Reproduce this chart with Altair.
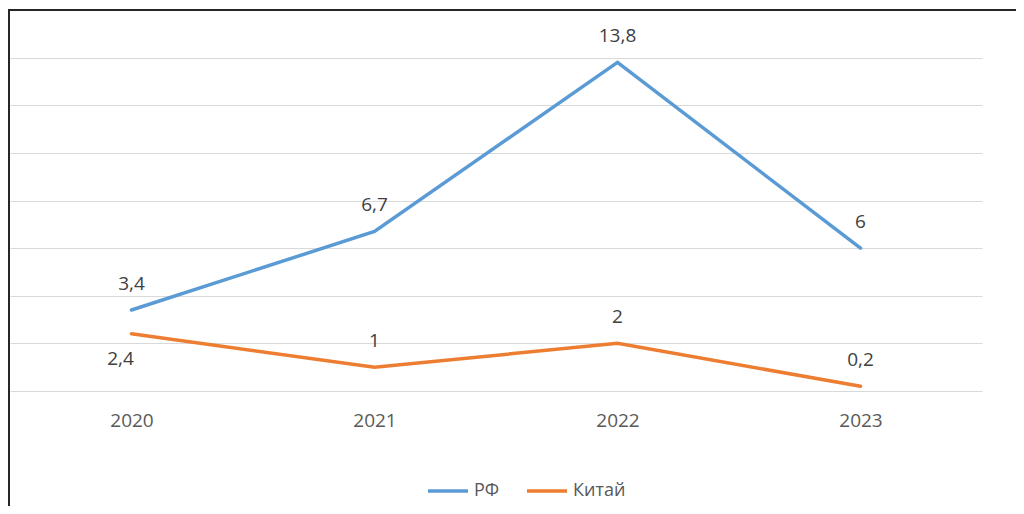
import altair as alt
import pandas as pd

years = [2020, 2021, 2022, 2023]
rf = [3.4, 6.7, 13.8, 6]
china = [2.4, 1, 2, 0.2]
rf_labels = ["3,4", "6,7", "13,8", "6"]
china_labels = ["2,4", "1", "2", "0,2"]
china_pos = ["below", "above", "above", "above"]
series = ["РФ", "Китай"]
colors = ["#5B9BD5", "#ED7D31"]
grid_values = [0, 2, 4, 6, 8, 10, 12, 14, 16]

rows = []
for i, yv in enumerate(years):
    rows.append({"year": yv, "value": rf[i], "series": "РФ", "label": rf_labels[i], "pos": "above"})
for i, yv in enumerate(years):
    rows.append({"year": yv, "value": china[i], "series": "Китай", "label": china_labels[i], "pos": china_pos[i]})
df = pd.DataFrame(rows)

FONT = "Open Sans"

x = alt.X("year:Q",
          scale=alt.Scale(domain=[2019.5, 2023.5], nice=False, zero=False),
          axis=alt.Axis(values=years, format="d", grid=False, domain=False, ticks=False,
                        labelPadding=20, labelFontSize=19, labelColor="#595959",
                        labelFont=FONT, title=None))
y = alt.Y("value:Q",
          scale=alt.Scale(domain=[0, 16], nice=False),
          axis=alt.Axis(values=grid_values, grid=True, gridColor="#D9D9D9", gridWidth=1,
                        labels=False, ticks=False, domain=False, title=None))

base = alt.Chart(df)

lines = base.mark_line(strokeWidth=3.5, strokeCap="round").encode(
    x=x, y=y,
    color=alt.Color("series:N", scale=alt.Scale(domain=series, range=colors),
                    legend=alt.Legend(orient="none", legendX=416, legendY=459,
                                      direction="horizontal", symbolType="stroke",
                                      symbolSize=1600, symbolStrokeWidth=3.5,
                                      labelFontSize=18, labelColor="#595959",
                                      labelFont=FONT, title=None, columnPadding=20,
                                      labelOffset=4)),
    detail="series:N",
    order="year:Q",
)

above = base.transform_filter(alt.datum.pos == "above").mark_text(
    dy=-26, fontSize=19, font=FONT, color="#404040").encode(
    x=x, y=y, text="label:N")
below = base.transform_filter(alt.datum.pos == "below").mark_text(
    dy=25, dx=-11, fontSize=19, font=FONT, color="#404040").encode(
    x=x, y=y, text="label:N")

frame_left = alt.Chart(df).mark_rule(color="#262626", strokeWidth=2).encode(
    x=alt.value(-1), y=alt.value(-1), y2=alt.value(520))
frame_top = alt.Chart(df).mark_rule(color="#262626", strokeWidth=2).encode(
    x=alt.value(-2), x2=alt.value(1020), y=alt.value(0))

chart = alt.layer(lines, above, below, frame_left, frame_top).properties(
    width=972, height=381,
    padding={"left": 2, "top": 2, "right": 34, "bottom": 115},
    autosize=alt.AutoSizeParams(type="none"),
    background="white",
).configure_view(strokeWidth=0)

chart.save("out.html", embed_options={"renderer": "svg", "actions": False})
